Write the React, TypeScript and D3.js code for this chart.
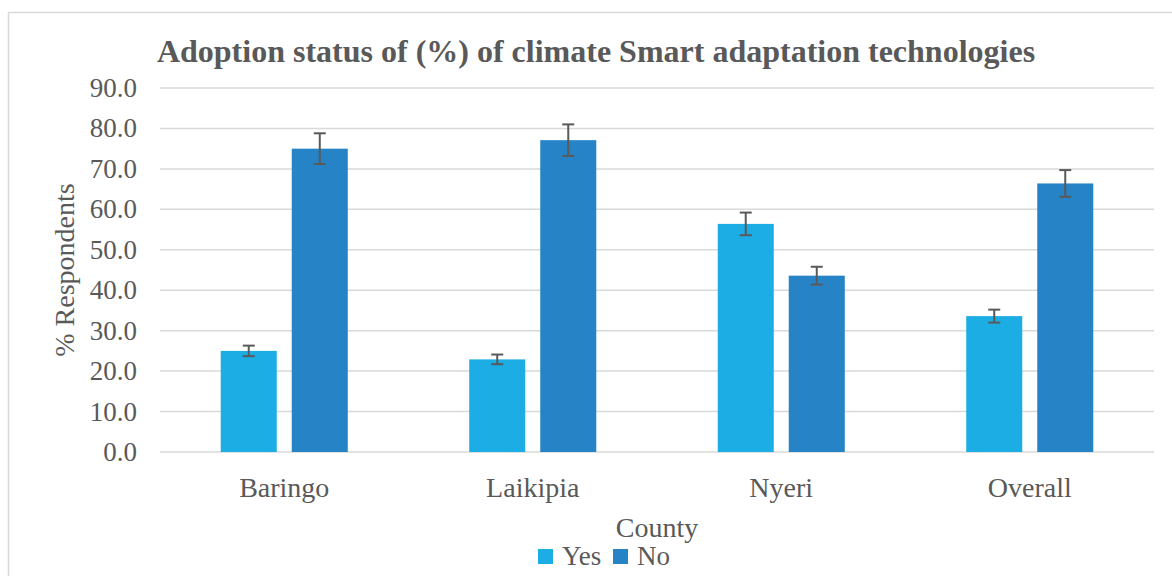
import * as d3 from 'd3';
import React, { useEffect, useRef } from 'react';

const counties = ['Baringo', 'Laikipia', 'Nyeri', 'Overall'];
const seriesNames = ['Yes', 'No'];
const yesValues = [25.0, 22.9, 56.4, 33.6];
const noValues = [75.0, 77.1, 43.6, 66.4];
const yesErrors = [1.3, 1.2, 2.8, 1.6];
const noErrors = [3.8, 3.9, 2.2, 3.3];
const yTicks = [0, 10, 20, 30, 40, 50, 60, 70, 80, 90];

const colors = ['#1CADE4', '#2683C6'];
const textColor = '#595959';
const font = '"Liberation Serif", "Times New Roman", serif';

const App: React.FC = () => {
  const svgRef = useRef<SVGSVGElement>(null);

  useEffect(() => {
    const W = 1172;
    const H = 576;
    const svg = d3.select(svgRef.current)
      .attr('width', W)
      .attr('height', H)
      .html('');

    const margin = { top: 88, right: 18, bottom: 124, left: 160 };
    const plotBottom = H - margin.bottom;

    // chart area border
    svg.append('rect')
      .attr('x', 8.5).attr('y', 12.5)
      .attr('width', 1200).attr('height', 700)
      .attr('fill', '#fff')
      .attr('stroke', '#d9d9d9')
      .attr('stroke-width', 1.5);

    const x = d3.scaleBand()
      .domain(counties)
      .range([margin.left, W - margin.right])
      .paddingInner(0)
      .paddingOuter(0);

    const x1 = d3.scaleBand()
      .domain(seriesNames)
      .range([0, x.bandwidth()])
      .paddingInner(0.211)
      .paddingOuter(0.855);

    const y = d3.scaleLinear()
      .domain([0, 90])
      .range([plotBottom, margin.top]);

    // gridlines
    svg.append('g')
      .selectAll('line')
      .data(yTicks)
      .enter().append('line')
        .attr('x1', margin.left)
        .attr('x2', W - margin.right)
        .attr('y1', d => y(d))
        .attr('y2', d => y(d))
        .attr('stroke', '#d9d9d9')
        .attr('stroke-width', 1.5);

    // y tick labels
    svg.append('g')
      .selectAll('text')
      .data(yTicks)
      .enter().append('text')
        .attr('x', 137)
        .attr('y', d => y(d) + 9)
        .attr('text-anchor', 'end')
        .attr('font-family', font)
        .attr('font-size', 27)
        .attr('fill', textColor)
        .text(d => d.toFixed(1));

    const groups = [
      { name: 'Yes', values: yesValues, errors: yesErrors, color: colors[0] },
      { name: 'No', values: noValues, errors: noErrors, color: colors[1] }
    ];

    groups.forEach(s => {
      const g = svg.append('g');
      const rows = counties.map((c, i) => ({ c, v: s.values[i], e: s.errors[i] }));
      const bx = (c: string) => x(c)! + x1(s.name)!;

      g.selectAll('rect')
        .data(rows)
        .enter().append('rect')
          .attr('x', d => bx(d.c))
          .attr('y', d => y(d.v))
          .attr('width', x1.bandwidth())
          .attr('height', d => plotBottom - y(d.v))
          .attr('fill', s.color);

      const eb = g.selectAll('.err')
        .data(rows)
        .enter().append('g')
          .attr('class', 'err')
          .attr('stroke', textColor)
          .attr('stroke-width', 2);
      const cx = (d: { c: string }) => bx(d.c) + x1.bandwidth() / 2;
      eb.append('line')
        .attr('x1', cx).attr('x2', cx)
        .attr('y1', d => y(d.v + d.e)).attr('y2', d => y(d.v - d.e));
      eb.append('line')
        .attr('x1', d => cx(d) - 6).attr('x2', d => cx(d) + 6)
        .attr('y1', d => y(d.v + d.e)).attr('y2', d => y(d.v + d.e));
      eb.append('line')
        .attr('x1', d => cx(d) - 6).attr('x2', d => cx(d) + 6)
        .attr('y1', d => y(d.v - d.e)).attr('y2', d => y(d.v - d.e));
    });

    // category labels
    svg.append('g')
      .selectAll('text')
      .data(counties)
      .enter().append('text')
        .attr('x', d => x(d)! + x.bandwidth() / 2)
        .attr('y', 497)
        .attr('text-anchor', 'middle')
        .attr('font-family', font)
        .attr('font-size', 28)
        .attr('fill', textColor)
        .text(d => d);

    // title
    svg.append('text')
      .attr('x', 596)
      .attr('y', 62)
      .attr('text-anchor', 'middle')
      .attr('font-family', font)
      .attr('font-weight', 'bold')
      .attr('font-size', 32)
      .attr('fill', textColor)
      .text('Adoption status of (%) of climate Smart adaptation technologies');

    // axis titles
    svg.append('text')
      .attr('transform', `translate(74,${(margin.top + plotBottom) / 2}) rotate(-90)`)
      .attr('text-anchor', 'middle')
      .attr('font-family', font)
      .attr('font-size', 28)
      .attr('fill', textColor)
      .text('% Respondents');

    svg.append('text')
      .attr('x', 657)
      .attr('y', 537)
      .attr('text-anchor', 'middle')
      .attr('font-family', font)
      .attr('font-size', 28)
      .attr('fill', textColor)
      .text('County');

    // legend
    const legendX = [538, 613];
    groups.forEach((s, i) => {
      svg.append('rect')
        .attr('x', legendX[i]).attr('y', 549)
        .attr('width', 15).attr('height', 15)
        .attr('fill', s.color);
      svg.append('text')
        .attr('x', legendX[i] + 24)
        .attr('y', 565)
        .attr('font-family', font)
        .attr('font-size', 27)
        .attr('fill', textColor)
        .text(s.name);
    });
  }, []);

  return <svg ref={svgRef} style={{ position: 'absolute', left: 0, top: 0 }} />;
};

export default App;
